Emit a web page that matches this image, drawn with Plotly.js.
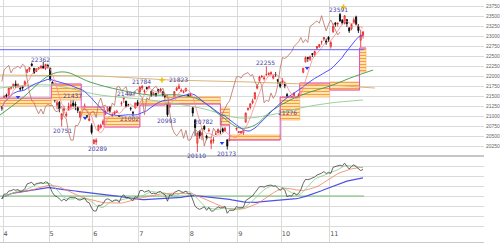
<!DOCTYPE html>
<html><head><meta charset="utf-8">
<script src="https://cdn.plot.ly/plotly-3.0.1.min.js"></script>
<style>html,body{margin:0;padding:0;background:#fff;overflow:hidden}#chart{width:500px;height:243px;}</style>
</head><body><div id="chart"></div>
<script>
// ---- data (Nikkei 225 daily, 2019-03-29 .. 2019-11-22), index 0 = Mar 29 ----
const monthStartIdx = [0.5, 20.5, 39.5, 59.5, 81.5, 102.5, 121.5, 142.5];
const monthLabels = ['4', '5', '6', '7', '8', '9', '10', '11'];

const openP = [21262,
 21313,21537,21535,21709,21749,21814,21745,21703,21743,21780,22104,22173,22311,22201,22125,22187,22215,22257,22203,22273,
 22213,21862,21524,21283,21355,20930,21154,21024,21176,21245,21337,21306,21219,20985,21182,21245,21094,20899,20775,
 20327,20364,20661,20728,20810,21052,21150,21230,21015,21067,21099,21019,21322,21443,21385,21288,21207,21102,21213,21355,
 21621,21712,21626,21722,21725,21632,21547,21581,21680,21649,21618,21524,21417,21245,21402,21477,21653,21700,21623,21607,21642,21538,
 21510,21216,20909,20331,20630,20540,20756,20513,20645,20330,20398,20560,20600,20621,20693,20638,20420,20400,20424,20420,20690,
 20600,20590,20590,20858,21176,21226,21342,21445,21707,21900,21996,21946,22036,22051,22064,21956,22051,21928,21839,
 21847,21800,21549,21430,21496,21425,21392,21497,21678,22105,22367,22477,22426,22574,22548,22706,22741,22864,22935,22890,22981,
 22754,23118,23343,23314,23550,23411,23328,23425,23216,23193,23352,23487,23254,22907,23030];
const highP = [21285,
 21528,21571,21720,21746,21822,21900,21827,21743,21767,21902,22189,22234,22346,22218,22200,22237,22279,22362,22312,22317,
 22213,21875,21596,21450,21389,21083,21267,21120,21347,21430,21437,21372,21251,21142,21232,21326,21120,21024,20828,
 20438,20457,20800,20820,20928,21152,21259,21259,21100,21148,21169,21040,21382,21497,21392,21317,21238,21140,21345,21414,
 21760,21784,21677,21744,21769,21646,21616,21585,21687,21715,21624,21545,21420,21476,21461,21636,21744,21823,21702,21657,21709,21575,
 21600,21247,20941,20607,20654,20604,20782,20545,20713,20448,20486,20630,20702,20656,20725,20731,20420,20482,20510,20496,20719,
 20634,20640,20664,21100,21227,21327,21446,21602,21811,22019,22041,22022,22255,22102,22129,22025,22111,21929,21872,
 21960,21867,21589,21467,21514,21599,21474,21580,21800,22209,22501,22490,22523,22577,22648,22755,22808,22896,22985,22948,23008,
 22884,23328,23343,23352,23591,23430,23530,23433,23228,23322,23473,23520,23310,23172,23140];
const lowP = [21145,
 21313,21456,21498,21667,21700,21719,21720,21636,21667,21753,22083,22115,22249,22070,22111,22171,22198,22197,22159,22200,
 21881,21580,21351,21180,21104,20751,21070,20979,21144,21196,21233,21159,21087,20955,21137,21195,20957,20880,20553,
 20305,20289,20636,20693,20788,21043,21100,21111,20985,21036,21084,20933,21262,21338,21229,21252,21145,21002,21194,21275,
 21570,21659,21566,21669,21686,21497,21531,21493,21572,21620,21501,21419,20993,21204,21339,21452,21637,21688,21617,21579,21611,21476,
 21436,21002,20514,20110,20445,20406,20655,20406,20610,20184,20326,20540,20570,20560,20601,20638,20173,20382,20405,20400,20642,
 20583,20566,20537,20851,21142,21177,21307,21420,21678,21887,21962,21903,22036,22024,22034,21930,21994,21817,21709,
 21801,21707,21276,21350,21374,21421,21358,21380,21650,22080,22350,22366,22389,22486,22494,22664,22720,22796,22889,22793,22863,
 22698,23091,23244,23251,23365,23300,23302,23240,23090,23154,23328,23287,23087,22726,22950];
const closeP = [21205,
 21509,21505,21713,21724,21807,21761,21802,21687,21711,21871,22169,22221,22277,22090,22200,22217,22259,22200,22307,22258,
 21923,21602,21402,21344,21191,21067,21188,21062,21250,21301,21272,21283,21151,21117,21182,21260,21003,20942,20601,
 20410,20408,20776,20774,20884,21134,21204,21129,21032,21116,21124,20972,21333,21462,21258,21285,21193,21086,21338,21275,
 21729,21754,21638,21702,21746,21534,21565,21533,21643,21685,21535,21469,21046,21466,21416,21620,21709,21756,21658,21616,21709,21521,
 21540,21087,20720,20585,20516,20593,20684,20455,20655,20405,20418,20563,20677,20618,20628,20710,20261,20456,20479,20460,20704,
 20620,20625,20649,21085,21199,21318,21392,21597,21759,21988,22001,21960,22044,22079,22098,22020,22048,21878,21755,
 21885,21778,21341,21410,21375,21587,21456,21551,21798,22207,22472,22451,22492,22548,22625,22750,22799,22867,22974,22843,22927,
 22850,23251,23303,23330,23391,23331,23520,23319,23141,23303,23416,23292,23148,23038,23112];

// long moving lines (index, price)
const greenIdx = [-0.8, 7.9, 20.9, 27.5, 38.3, 51.4, 64.4, 77.5, 86.2, 94.8, 103.5, 110.1, 116.6, 125.3, 134, 142.7, 151.4, 161.4];
const greenVal = [21037, 21412, 22037, 22112, 21862, 21662, 21537, 21537, 21412, 21037, 20712, 20787, 21112, 21412, 21612, 21762, 21962, 22162];
const lgreenIdx = [-0.8, 20.9, 42.7, 64.4, 86.2, 103.5, 116.6, 129.6, 142.7, 157];
const lgreenVal = [21712, 21787, 21537, 21412, 21212, 20962, 21037, 21212, 21337, 21412];
const tanIdx = [-0.8, 42.7, 73.1, 107.9, 142.7, 162.2];
const tanVal = [22037, 22012, 21912, 21862, 21787, 21712];

// price-band boxes (start idx, end idx, low, high) and their step-line level
const boxStart = [-0.8, 21.5, 34.5, 44.5, 60, 71, 95, 99, 121, 129.5, 142.5, 155.5];
const boxEnd   = [21.5, 34.5, 44.5, 60, 71, 95, 99, 121, 129.5, 142.5, 155.5, 158.3];
const boxLow   = [21260, 21412, 21037, 20737, 21287, 21312, 20787, 20412, 20912, 21487, 21662, 22112];
const boxHigh  = [21460, 21812, 21237, 20987, 21387, 21487, 21212, 20537, 21487, 21837, 21862, 22712];
const stepLevel= [21460, 21812, 21237, 20737, 21287, 21312, 20787, 20412, 21487, 21837, 21662, 22712];

const resistLevel = 22670;
const lagShift = 10;
const oscZero = 21385;

// pivot labels
const pivIdx = [16.9, 30.5, 26.2, 41.4, 54.4, 55.7, 60.9, 77, 71.4, 87.5, 84.4, 97.5, 114.4, 124, 146.2];
const pivVal = [22437, 21537, 20662, 20212, 21587, 20962, 21887, 21937, 20912, 20887, 20037, 20087, 22362, 21112, 23687];
const pivText = ['22362','21437','20751','20289','21497','21002','21784','21823','20993','20782','20110','20173','22255','21276','23591'];

const sigBlueIdx = [7, 36.2, 95.7, 132.7];
const sigBlueVal = [21487, 20962, 20337, 22212];
const sigYelIdx = [69.6, 148.5];
const sigYelVal = [21912, 23737];

const yTicks = [20250,20500,20750,21000,21250,21500,21750,22000,22250,22500,22750,23000,23250,23500,23750];
const yTickText = yTicks.map(String);

// ---- build ----
const idx = closeP.map((_, i) => i);
function sma(a, n) {
  return a.map((_, i) => { const s = Math.max(0, i - n + 1); let t = 0; for (let k = s; k <= i; k++) t += a[k]; return t / (i - s + 1); });
}
const traces = [];
for (let b = 0; b < boxStart.length; b++) {
  traces.push({type:'scatter', mode:'lines', xaxis:'x2', yaxis:'y',
    x:[boxStart[b], boxEnd[b], boxEnd[b], boxStart[b], boxStart[b]],
    y:[boxLow[b], boxLow[b], boxHigh[b], boxHigh[b], boxLow[b]],
    fill:'toself', fillcolor:'#ffe2a8',
    fillpattern:{shape:'-', fgcolor:'#ff9c3c', bgcolor:'#ffe4b0', size:3, solidity:0.35},
    line:{color:'#f7b060', width:0.7}, hoverinfo:'skip'});
}
const stepX = boxStart.concat([boxEnd[boxEnd.length-1]]);
const stepY = stepLevel.concat([stepLevel[stepLevel.length-1]]);
traces.push({type:'scatter', mode:'lines', xaxis:'x2', yaxis:'y', x:stepX, y:stepY, line:{color:'#e050c8', width:1, shape:'hv'}});
traces.push({type:'scatter', mode:'lines', xaxis:'x2', yaxis:'y', x:tanIdx, y:tanVal, line:{color:'#dcb478', width:1}});
traces.push({type:'scatter', mode:'lines', xaxis:'x2', yaxis:'y', x:lgreenIdx, y:lgreenVal, line:{color:'#90cc90', width:0.9, shape:'spline'}});
traces.push({type:'scatter', mode:'lines', xaxis:'x2', yaxis:'y', x:greenIdx, y:greenVal, line:{color:'#3a9a46', width:0.9, shape:'spline'}});
traces.push({type:'scatter', mode:'lines', xaxis:'x2', yaxis:'y', x:idx, y:sma(closeP,25), line:{color:'#5050ff', width:1}});
traces.push({type:'scatter', mode:'lines', xaxis:'x2', yaxis:'y', x:idx, y:sma(closeP,5), line:{color:'#ff8a8a', width:0.8}});
const lagX = idx.slice(0, closeP.length - lagShift);
const lagY = closeP.slice(lagShift);
traces.push({type:'scatter', mode:'lines', xaxis:'x2', yaxis:'y', x:lagX, y:lagY, line:{color:'#b87060', width:0.8}});
traces.push({type:'scatter', mode:'lines', xaxis:'x2', yaxis:'y', x:[-0.8, closeP.length-0.5], y:[resistLevel, resistLevel], line:{color:'#6464ff', width:1}});
traces.push({type:'candlestick', xaxis:'x2', yaxis:'y', x:idx, open:openP, high:highP, low:lowP, close:closeP,
  increasing:{line:{color:'#e82020', width:0.8}, fillcolor:'#ffa0a0'},
  decreasing:{line:{color:'#000000', width:0.8}, fillcolor:'#000000'},
  whiskerwidth:0, hoverinfo:'skip'});
traces.push({type:'scatter', mode:'markers', xaxis:'x2', yaxis:'y', x:sigBlueIdx, y:sigBlueVal, marker:{symbol:'triangle-down', size:4, color:'#2040ff'}});
traces.push({type:'scatter', mode:'markers', xaxis:'x2', yaxis:'y', x:sigYelIdx, y:sigYelVal, marker:{symbol:'cross', size:4, color:'#f0c000'}});
traces.push({type:'scatter', mode:'lines', xaxis:'x', yaxis:'y2', x:[-0.8, closeP.length-0.5], y:[oscZero, oscZero], line:{color:'#70be70', width:1}});
traces.push({type:'scatter', mode:'lines', xaxis:'x', yaxis:'y2', x:idx, y:sma(closeP,40), line:{color:'#5050e8', width:1.2}});
traces.push({type:'scatter', mode:'lines', xaxis:'x', yaxis:'y2', x:idx, y:sma(closeP,15), line:{color:'#f08060', width:0.8}});
traces.push({type:'scatter', mode:'lines', xaxis:'x', yaxis:'y2', x:idx, y:sma(closeP,6), line:{color:'#88cc88', width:0.8}});
traces.push({type:'scatter', mode:'lines', xaxis:'x', yaxis:'y2', x:idx, y:closeP, line:{color:'#404040', width:0.8}});

const annotations = pivText.map((t, k) => ({x:pivIdx[k], y:pivVal[k], xref:'x2', yref:'y', text:t, showarrow:false,
  font:{size:6, color:'#4848a8', family:'DejaVu Sans'}, xanchor:'center', yanchor:'middle'}));

const oscTicks = [30,20,10,0,-10,-20,-30].map(v => oscZero + v*65);
const grid = '#dadada';
const xEnd = 0.968;
const layout = {
  width:500, height:243, margin:{l:0, r:0, t:0, b:0}, paper_bgcolor:'#fff', plot_bgcolor:'#fff', showlegend:false,
  xaxis:{domain:[0,xEnd], anchor:'y2', range:[-0.804, 209.6], tickvals:monthStartIdx, ticktext:monthLabels,
    ticklabelposition:'inside right', ticks:'', showgrid:true, gridcolor:grid, gridwidth:1, zeroline:false,
    showline:true, linecolor:'#c8c8c8', tickfont:{size:6.5, color:'#555', family:'DejaVu Sans'}},
  xaxis2:{domain:[0,xEnd], anchor:'y', matches:'x', tickvals:monthStartIdx, showticklabels:false, ticks:'',
    showgrid:true, gridcolor:grid, zeroline:false, rangeslider:{visible:false}},
  yaxis:{domain:[1-156/243, 1], range:[20012.5, 23912.5], side:'right', tickvals:yTicks, ticktext:yTickText, ticks:'',
    ticklabelstandoff:1, showgrid:true, gridcolor:grid, zeroline:false,
    tickfont:{size:5, color:'#666', family:'Liberation Sans'}},
  yaxis2:{domain:[1-242/243, 1-156/243], range:[18395, 23985], tickvals:oscTicks, showticklabels:false, ticks:'',
    showgrid:true, gridcolor:grid, zeroline:false},
  shapes:[{type:'line', xref:'paper', yref:'paper', x0:0, x1:xEnd, y0:1-156/243, y1:1-156/243, line:{color:'#b4b4b4', width:1.5}}],
  annotations:annotations
};
Plotly.newPlot('chart', traces, layout, {staticPlot:true, displayModeBar:false});
</script></body></html>
